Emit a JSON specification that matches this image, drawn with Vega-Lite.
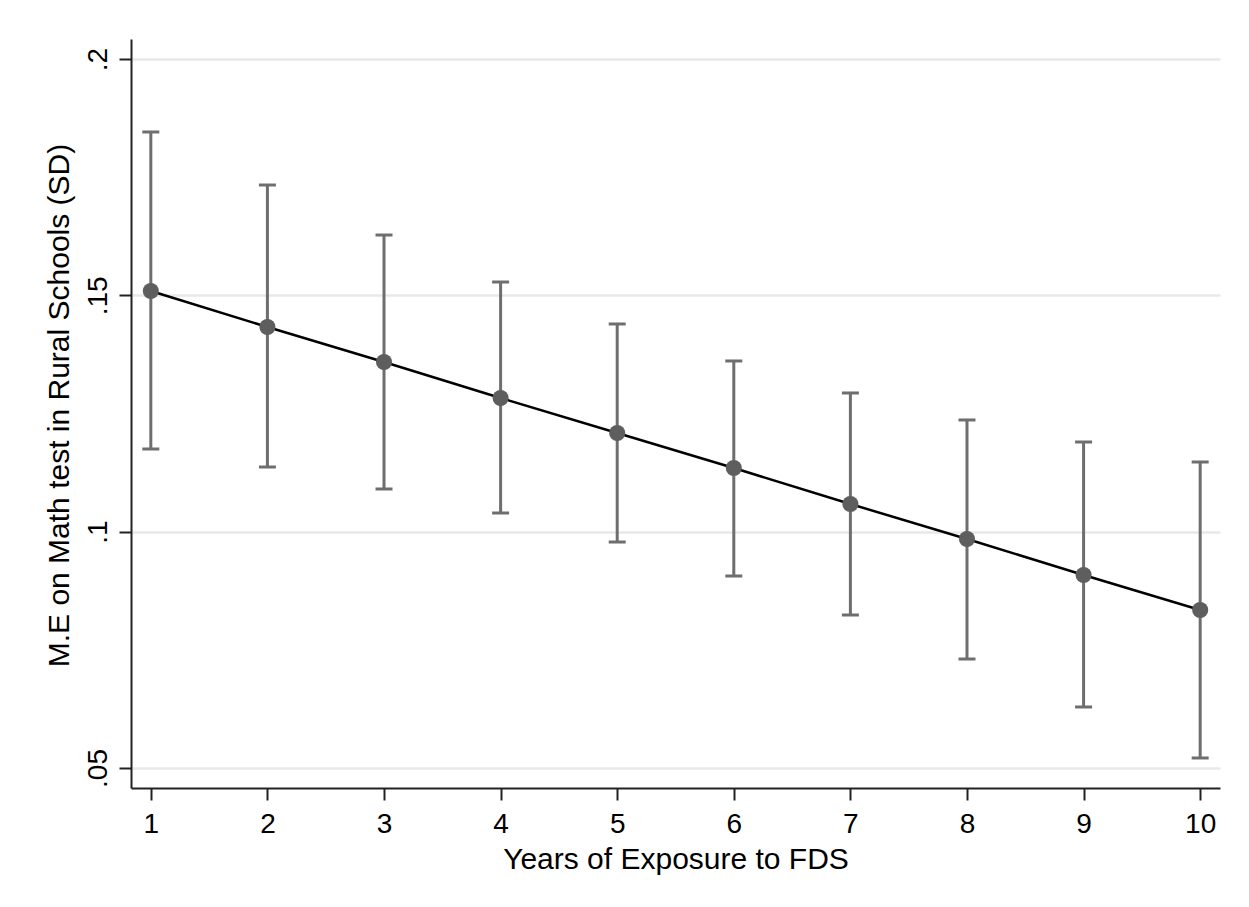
{
  "$schema": "https://vega.github.io/schema/vega-lite/v6.json",
  "width": 1089,
  "height": 749,
  "autosize": "none",
  "padding": {"left": 131, "top": 39, "right": 29, "bottom": 119},
  "background": "white",
  "config": {
    "view": {"stroke": null},
    "font": "Liberation Sans",
    "axis": {
      "labelFont": "Liberation Sans",
      "titleFont": "Liberation Sans",
      "labelFontSize": 28,
      "titleFontSize": 30,
      "labelColor": "black",
      "titleColor": "black",
      "titleFontWeight": "normal",
      "domainColor": "#222222",
      "domainWidth": 2,
      "tickColor": "#222222",
      "tickWidth": 2,
      "tickSize": 12
    }
  },
  "data": {
    "values": [
      {"years": 1, "me": 0.15092, "lo": 0.11749, "hi": 0.18456},
      {"years": 2, "me": 0.1433, "lo": 0.11368, "hi": 0.17334},
      {"years": 3, "me": 0.1359, "lo": 0.10903, "hi": 0.16276},
      {"years": 4, "me": 0.12828, "lo": 0.10395, "hi": 0.15282},
      {"years": 5, "me": 0.12087, "lo": 0.09781, "hi": 0.14394},
      {"years": 6, "me": 0.11347, "lo": 0.09062, "hi": 0.13611},
      {"years": 7, "me": 0.10585, "lo": 0.08237, "hi": 0.12934},
      {"years": 8, "me": 0.09845, "lo": 0.07306, "hi": 0.12363},
      {"years": 9, "me": 0.09083, "lo": 0.06291, "hi": 0.11897},
      {"years": 10, "me": 0.08343, "lo": 0.05212, "hi": 0.11474}
    ]
  },
  "encoding": {
    "x": {
      "field": "years",
      "type": "quantitative",
      "scale": {"domain": [0.83, 10.17], "nice": false, "zero": false},
      "axis": {
        "title": "Years of Exposure to FDS",
        "values": [1, 2, 3, 4, 5, 6, 7, 8, 9, 10],
        "grid": false,
        "labelPadding": 10,
        "titlePadding": 6,
        "labelFlush": false
      }
    }
  },
  "layer": [
    {
      "mark": {"type": "rule", "color": "#6e6e6e", "strokeWidth": 3},
      "encoding": {
        "y": {
          "field": "lo",
          "type": "quantitative",
          "scale": {"domain": [0.04577, 0.20423], "nice": false, "zero": false},
          "axis": {
            "title": "M.E on Math test in Rural Schools (SD)",
            "values": [0.05, 0.1, 0.15, 0.2],
            "labelExpr": "replace(format(datum.value, '.2~f'), /^0/, '')",
            "grid": true,
            "gridColor": "#e8e8e8",
            "gridWidth": 2.5,
            "labelAngle": -90,
            "labelAlign": "center",
            "labelBaseline": "alphabetic",
            "labelPadding": 13,
            "titlePadding": 10,
            "titleY": 366,
            "labelFlush": false
          }
        },
        "y2": {"field": "hi"}
      }
    },
    {
      "mark": {"type": "tick", "orient": "horizontal", "color": "#6e6e6e", "size": 17, "thickness": 3, "opacity": 1},
      "encoding": {"y": {"field": "lo", "type": "quantitative"}}
    },
    {
      "mark": {"type": "tick", "orient": "horizontal", "color": "#6e6e6e", "size": 17, "thickness": 3, "opacity": 1},
      "encoding": {"y": {"field": "hi", "type": "quantitative"}}
    },
    {
      "mark": {"type": "line", "color": "black", "strokeWidth": 2.5},
      "encoding": {"y": {"field": "me", "type": "quantitative"}}
    },
    {
      "mark": {"type": "point", "filled": true, "color": "#5e5e5e", "size": 260, "opacity": 1, "shape": "circle"},
      "encoding": {"y": {"field": "me", "type": "quantitative"}}
    }
  ]
}
